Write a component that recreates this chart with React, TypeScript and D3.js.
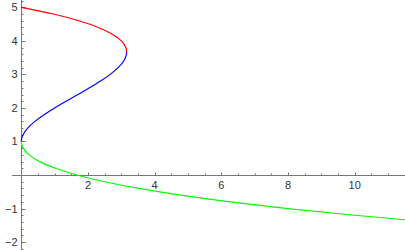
import React from "react";
import * as d3 from "d3";

// values: x of each curve at given y
const redY = [5.0, 4.8, 4.6, 4.4, 4.2, 4.0, 3.8, 3.7, 3.667];
const redX = [0, 0.963, 1.728, 2.312, 2.731, 3.0, 3.136, 3.159, 3.16];
const blueY = [3.667, 3.6, 3.4, 3.2, 3.0, 2.8, 2.6, 2.4, 2.2, 2.0, 1.8, 1.6, 1.4, 1.2, 1.1, 1.0];
const blueX = [3.16, 3.155, 3.072, 2.904, 2.667, 2.376, 2.048, 1.699, 1.344, 1.0, 0.683, 0.408, 0.192, 0.051, 0.013, 0];
const greenY = [1.0, 0.9, 0.8, 0.6, 0.4, 0.2, 0, -0.2, -0.4, -0.6, -0.8, -1.0, -1.2, -1.35];
const greenX = [0, 0.0137, 0.056, 0.235, 0.552, 1.024, 1.667, 2.496, 3.528, 4.779, 6.264, 8.0, 10.003, 11.69];

const xTicks = [2, 4, 6, 8, 10];
const yTicks = [-2, -1, 1, 2, 3, 4, 5];

const W = 405;
const H = 250;

export default function App() {
    const x = d3.scaleLinear().domain([-0.639, 11.51]).range([0, W]);
    const y = d3.scaleLinear().domain([-2.236, 5.218]).range([H, 0]);

    const line = d3
        .line<[number, number]>()
        .x(d => x(d[0]))
        .y(d => y(d[1]))
        .curve(d3.curveMonotoneY);

    const zip = (xs: number[], ys: number[]) => xs.map((v, i) => [v, ys[i]] as [number, number]);

    const series = [
        { pts: zip(redX, redY), color: "#ff0000" },
        { pts: zip(blueX, blueY), color: "#0000ff" },
        { pts: zip(greenX, greenY), color: "#00ff00" },
    ];

    const x0 = Math.round(x(0)) + 0.5;
    const y0 = Math.round(y(0)) + 0.5;
    const xMinor = d3.range(0.5, 11.6, 0.5).filter(v => v % 2 !== 0);
    const yMinor = d3.range(-2.2, 5.21, 0.2).filter(v => Math.abs(v - Math.round(v)) > 0.01);
    const axisCol = "#777";

    return (
        <svg width={W} height={H} style={{ position: "absolute", left: 0, top: 0, background: "#fff" }}>
            <g stroke={axisCol} strokeWidth={1}>
                <line x1={12} x2={W} y1={y0} y2={y0} />
                <line x1={x0} x2={x0} y1={0} y2={H} />
                {xTicks.map(t => (
                    <line key={"xt" + t} x1={Math.round(x(t)) + 0.5} x2={Math.round(x(t)) + 0.5} y1={y0} y2={y0 - 3} />
                ))}
                {xMinor.map(t => (
                    <line key={"xm" + t} x1={Math.round(x(t)) + 0.5} x2={Math.round(x(t)) + 0.5} y1={y0} y2={y0 - 2} />
                ))}
                {yTicks.map(t => (
                    <line key={"yt" + t} x1={x0} x2={x0 + 4} y1={Math.round(y(t)) + 0.5} y2={Math.round(y(t)) + 0.5} />
                ))}
                {yMinor.map(t => (
                    <line key={"ym" + t} x1={x0} x2={x0 + 2} y1={Math.round(y(t)) + 0.5} y2={Math.round(y(t)) + 0.5} />
                ))}
            </g>
            <g fontFamily="Liberation Sans, Arial, sans-serif" fontSize={11} fill="#333">
                {xTicks.map(t => (
                    <text key={"xl" + t} x={x(t)} y={y0 + 13.5} textAnchor="middle">
                        {t}
                    </text>
                ))}
                {yTicks.map(t => (
                    <text key={"yl" + t} x={x0 - 4} y={y(t) + 4} textAnchor="end">
                        {t < 0 ? "\u2212" + Math.abs(t) : t}
                    </text>
                ))}
            </g>
            {series.map((s, i) => (
                <path key={i} d={line(s.pts) || ""} fill="none" stroke={s.color} strokeWidth={1.2} />
            ))}
        </svg>
    );
}
